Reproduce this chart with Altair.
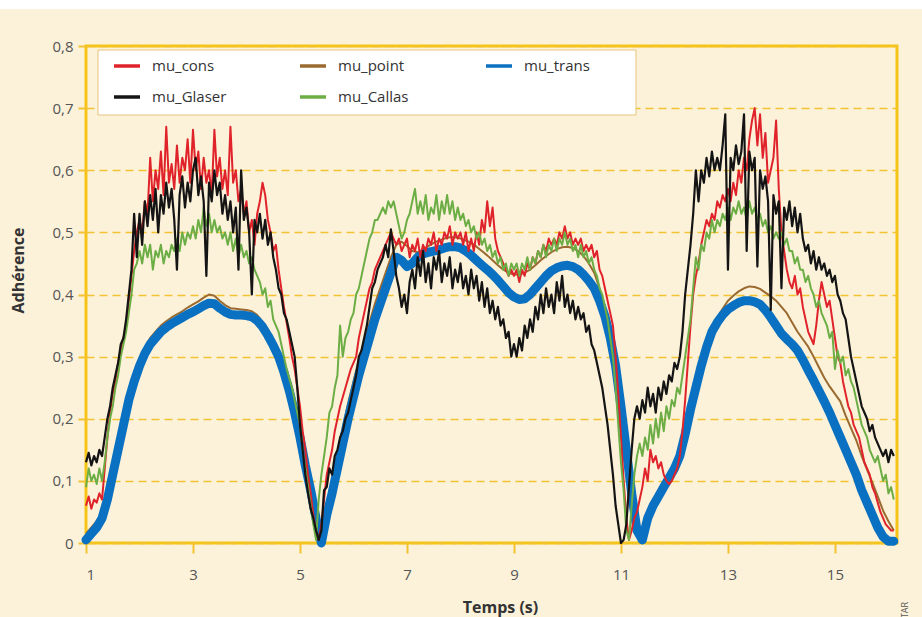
import altair as alt
import pandas as pd

# legend is laid out column by column: (mu_cons, mu_Glaser), (mu_point, mu_Callas), (mu_trans)
SERIES = ["mu_cons", "mu_Glaser", "mu_point", "mu_Callas", "mu_trans"]
COLORS = ["#e0232a", "#141414", "#9a6a30", "#6cae45", "#0a70c2"]
X_TICKS = [1, 3, 5, 7, 9, 11, 13, 15]
Y_TICKS = [0, 0.1, 0.2, 0.3, 0.4, 0.5, 0.6, 0.7, 0.8]

# noisy series: one row per second, sampled every 0.05 s (row k starts at t = 1 + k)
mu_cons = [
    [0.06,0.075,0.055,0.07,0.065,0.08,0.07,0.12,0.17,0.21,0.24,0.26,0.29,0.31,0.33,0.35,0.39,0.43,0.47,0.5],
    [0.52,0.5,0.55,0.53,0.62,0.55,0.6,0.57,0.63,0.56,0.67,0.58,0.61,0.57,0.64,0.58,0.62,0.6,0.65,0.58],
    [0.665,0.6,0.63,0.57,0.62,0.58,0.6,0.56,0.665,0.59,0.62,0.57,0.6,0.56,0.67,0.58,0.6,0.55,0.57,0.53],
    [0.55,0.5,0.52,0.48,0.53,0.55,0.58,0.56,0.52,0.5,0.47,0.48,0.44,0.41,0.38,0.355,0.33,0.3,0.28,0.25],
    [0.22,0.18,0.15,0.11,0.08,0.045,0.02,0.005,0.03,0.07,0.11,0.13,0.15,0.18,0.2,0.22,0.235,0.25,0.265,0.28],
    [0.29,0.3,0.33,0.35,0.37,0.39,0.41,0.42,0.44,0.45,0.46,0.47,0.48,0.49,0.5,0.49,0.48,0.49,0.47,0.48],
    [0.49,0.46,0.48,0.47,0.49,0.46,0.48,0.47,0.49,0.48,0.5,0.47,0.49,0.48,0.5,0.49,0.51,0.48,0.5,0.49],
    [0.5,0.48,0.5,0.47,0.49,0.47,0.5,0.48,0.52,0.5,0.55,0.51,0.54,0.49,0.47,0.46,0.45,0.44,0.43,0.44],
    [0.43,0.44,0.42,0.44,0.43,0.45,0.44,0.46,0.45,0.47,0.46,0.48,0.47,0.49,0.48,0.49,0.48,0.5,0.49,0.51],
    [0.49,0.5,0.48,0.49,0.48,0.49,0.47,0.48,0.47,0.48,0.46,0.47,0.44,0.43,0.41,0.39,0.37,0.35,0.3,0.24],
    [0.17,0.1,0.04,0.005,0.02,0.04,0.05,0.07,0.09,0.12,0.1,0.15,0.13,0.14,0.12,0.13,0.11,0.1,0.095,0.1],
    [0.11,0.12,0.14,0.18,0.23,0.29,0.35,0.4,0.43,0.45,0.48,0.5,0.52,0.51,0.53,0.52,0.55,0.54,0.56,0.55],
    [0.57,0.55,0.58,0.56,0.6,0.58,0.62,0.6,0.65,0.68,0.7,0.64,0.69,0.62,0.66,0.58,0.6,0.62,0.68,0.57],
    [0.5,0.47,0.44,0.42,0.41,0.43,0.4,0.41,0.38,0.36,0.34,0.33,0.32,0.35,0.39,0.42,0.4,0.38,0.39,0.36],
    [0.33,0.3,0.29,0.26,0.24,0.22,0.21,0.19,0.18,0.17,0.15,0.13,0.12,0.11,0.09,0.08,0.065,0.05,0.04,0.03],
    [0.025,0.02,0.02],
]
mu_Glaser = [
    [0.13,0.145,0.125,0.14,0.13,0.15,0.14,0.17,0.2,0.22,0.25,0.27,0.29,0.32,0.33,0.36,0.4,0.44,0.53,0.46],
    [0.53,0.48,0.55,0.51,0.56,0.52,0.57,0.5,0.56,0.53,0.58,0.54,0.57,0.52,0.44,0.56,0.59,0.54,0.58,0.55],
    [0.6,0.62,0.56,0.59,0.55,0.43,0.58,0.55,0.6,0.56,0.58,0.53,0.56,0.52,0.55,0.5,0.54,0.44,0.6,0.52],
    [0.54,0.5,0.4,0.52,0.5,0.53,0.49,0.52,0.48,0.5,0.46,0.44,0.41,0.4,0.37,0.36,0.34,0.32,0.3,0.25],
    [0.19,0.15,0.11,0.08,0.055,0.04,0.02,0.005,0.02,0.085,0.09,0.12,0.11,0.14,0.15,0.17,0.18,0.2,0.21,0.23],
    [0.25,0.27,0.3,0.31,0.33,0.35,0.38,0.41,0.42,0.44,0.45,0.46,0.48,0.46,0.505,0.47,0.43,0.41,0.38,0.4],
    [0.37,0.42,0.44,0.41,0.46,0.43,0.47,0.42,0.45,0.41,0.46,0.44,0.47,0.42,0.45,0.43,0.46,0.41,0.44,0.42],
    [0.45,0.41,0.43,0.4,0.44,0.41,0.43,0.39,0.42,0.38,0.41,0.37,0.39,0.36,0.38,0.35,0.36,0.33,0.34,0.3],
    [0.32,0.3,0.33,0.31,0.35,0.33,0.36,0.34,0.38,0.36,0.4,0.37,0.41,0.38,0.4,0.37,0.42,0.39,0.43,0.38],
    [0.4,0.37,0.39,0.36,0.38,0.36,0.37,0.34,0.35,0.32,0.31,0.29,0.27,0.25,0.22,0.19,0.15,0.11,0.06,0.03],
    [0.0,0.005,0.03,0.09,0.15,0.2,0.22,0.2,0.23,0.21,0.25,0.22,0.24,0.21,0.25,0.23,0.26,0.24,0.27,0.26],
    [0.29,0.28,0.3,0.34,0.4,0.44,0.48,0.53,0.6,0.55,0.6,0.58,0.62,0.59,0.63,0.6,0.62,0.6,0.64,0.69],
    [0.44,0.62,0.6,0.64,0.61,0.63,0.69,0.47,0.63,0.6,0.62,0.445,0.6,0.57,0.59,0.55,0.375,0.56,0.53,0.55],
    [0.41,0.54,0.52,0.55,0.51,0.54,0.5,0.53,0.49,0.47,0.48,0.45,0.47,0.44,0.46,0.44,0.45,0.43,0.44,0.42],
    [0.43,0.4,0.39,0.37,0.36,0.33,0.3,0.28,0.26,0.24,0.22,0.21,0.2,0.18,0.19,0.17,0.16,0.15,0.14,0.15],
    [0.13,0.15,0.14],
]
mu_Callas = [
    [0.09,0.12,0.1,0.11,0.095,0.12,0.1,0.13,0.17,0.2,0.22,0.25,0.27,0.3,0.32,0.34,0.37,0.4,0.44,0.45],
    [0.47,0.45,0.48,0.46,0.48,0.44,0.47,0.46,0.48,0.45,0.47,0.46,0.48,0.47,0.49,0.47,0.5,0.48,0.5,0.49],
    [0.51,0.49,0.52,0.5,0.54,0.51,0.53,0.5,0.52,0.5,0.51,0.49,0.5,0.48,0.5,0.47,0.49,0.46,0.48,0.46],
    [0.47,0.45,0.46,0.44,0.43,0.42,0.4,0.41,0.38,0.39,0.36,0.35,0.34,0.32,0.3,0.28,0.265,0.25,0.23,0.21],
    [0.19,0.15,0.12,0.09,0.06,0.03,0.005,0.07,0.11,0.14,0.17,0.21,0.22,0.25,0.27,0.35,0.3,0.33,0.34,0.36],
    [0.37,0.4,0.41,0.43,0.45,0.47,0.49,0.5,0.52,0.52,0.53,0.54,0.53,0.55,0.54,0.55,0.53,0.51,0.49,0.5],
    [0.52,0.53,0.55,0.57,0.53,0.55,0.53,0.56,0.52,0.54,0.53,0.56,0.52,0.55,0.53,0.56,0.53,0.55,0.52,0.54],
    [0.52,0.53,0.51,0.52,0.5,0.51,0.49,0.5,0.48,0.49,0.47,0.48,0.46,0.47,0.45,0.46,0.44,0.45,0.43,0.45],
    [0.44,0.45,0.43,0.45,0.44,0.46,0.44,0.46,0.45,0.47,0.46,0.48,0.46,0.48,0.47,0.49,0.47,0.49,0.48,0.5],
    [0.48,0.49,0.47,0.48,0.46,0.48,0.46,0.47,0.45,0.46,0.44,0.43,0.41,0.4,0.38,0.36,0.33,0.3,0.25,0.19],
    [0.13,0.085,0.02,0.005,0.06,0.11,0.14,0.16,0.14,0.17,0.15,0.19,0.16,0.2,0.17,0.21,0.18,0.22,0.2,0.23],
    [0.22,0.25,0.24,0.27,0.3,0.33,0.36,0.41,0.46,0.44,0.48,0.47,0.5,0.49,0.52,0.5,0.52,0.51,0.53,0.52],
    [0.54,0.52,0.54,0.53,0.55,0.53,0.54,0.52,0.55,0.53,0.54,0.52,0.53,0.51,0.52,0.5,0.51,0.49,0.5,0.49],
    [0.5,0.48,0.49,0.47,0.47,0.45,0.46,0.44,0.44,0.42,0.43,0.41,0.4,0.38,0.39,0.37,0.36,0.35,0.33,0.34],
    [0.28,0.31,0.29,0.3,0.27,0.28,0.26,0.25,0.23,0.21,0.19,0.18,0.17,0.15,0.14,0.13,0.14,0.12,0.1,0.11],
    [0.08,0.09,0.07],
]
# smooth series: one row per second, sampled every 0.1 s
mu_trans = [
    [0.005,0.015,0.025,0.04,0.07,0.11,0.15,0.19,0.23,0.26],
    [0.285,0.305,0.32,0.33,0.34,0.347,0.353,0.358,0.363,0.368],
    [0.372,0.377,0.382,0.386,0.385,0.378,0.372,0.368,0.367,0.367],
    [0.366,0.364,0.358,0.348,0.334,0.318,0.3,0.275,0.245,0.21],
    [0.17,0.125,0.085,0.04,0.0,0.045,0.08,0.12,0.16,0.2],
    [0.235,0.27,0.3,0.33,0.36,0.385,0.41,0.435,0.46,0.455],
    [0.445,0.45,0.46,0.465,0.468,0.47,0.472,0.475,0.477,0.477],
    [0.475,0.47,0.463,0.455,0.447,0.44,0.432,0.423,0.413,0.403],
    [0.396,0.392,0.393,0.4,0.41,0.42,0.43,0.438,0.443,0.446],
    [0.447,0.445,0.44,0.432,0.422,0.41,0.39,0.365,0.33,0.285],
    [0.22,0.15,0.08,0.02,0.005,0.04,0.06,0.075,0.09,0.105],
    [0.12,0.14,0.175,0.215,0.25,0.285,0.315,0.34,0.355,0.367],
    [0.376,0.382,0.387,0.39,0.39,0.388,0.384,0.375,0.363,0.35],
    [0.337,0.328,0.32,0.31,0.295,0.278,0.262,0.245,0.228,0.21],
    [0.19,0.17,0.15,0.13,0.11,0.085,0.065,0.045,0.025,0.01],
    [0.003,0.003],
]
mu_point = [
    [0.015,0.025,0.035,0.05,0.08,0.12,0.16,0.2,0.24,0.27],
    [0.295,0.315,0.33,0.34,0.35,0.357,0.363,0.368,0.373,0.379],
    [0.384,0.389,0.395,0.4,0.398,0.39,0.383,0.378,0.377,0.376],
    [0.375,0.373,0.367,0.356,0.342,0.326,0.308,0.283,0.253,0.218],
    [0.178,0.133,0.092,0.045,0.005,0.06,0.1,0.14,0.185,0.225],
    [0.26,0.295,0.325,0.355,0.385,0.41,0.435,0.46,0.48,0.485],
    [0.478,0.47,0.468,0.472,0.478,0.483,0.487,0.49,0.492,0.492],
    [0.49,0.487,0.483,0.477,0.47,0.463,0.455,0.447,0.44,0.435],
    [0.432,0.432,0.435,0.44,0.447,0.455,0.462,0.468,0.473,0.476],
    [0.477,0.475,0.47,0.462,0.45,0.435,0.41,0.375,0.335,0.285],
    [0.215,0.14,0.07,0.015,0.01,0.045,0.065,0.08,0.095,0.11],
    [0.125,0.145,0.18,0.22,0.255,0.29,0.32,0.345,0.362,0.377],
    [0.39,0.398,0.405,0.41,0.413,0.412,0.409,0.403,0.397,0.39],
    [0.38,0.37,0.355,0.34,0.328,0.316,0.3,0.283,0.266,0.252],
    [0.24,0.228,0.205,0.185,0.165,0.14,0.118,0.097,0.075,0.052],
    [0.035,0.02],
]


def build(rows, step, name):
    recs = []
    for k, row in enumerate(rows):
        for j, v in enumerate(row):
            recs.append({"t": round(1 + k + j * step, 3), "v": v, "series": name})
    return pd.DataFrame(recs)


df_cons = build(mu_cons, 0.05, "mu_cons")
df_glaser = build(mu_Glaser, 0.05, "mu_Glaser")
df_callas = build(mu_Callas, 0.05, "mu_Callas")
df_trans = build(mu_trans, 0.1, "mu_trans")
df_point = build(mu_point, 0.1, "mu_point")

FONT = "Open Sans"
YEL = "#f2c230"

x_enc = alt.X(
    "t:Q",
    scale=alt.Scale(domain=[1, 16.16], nice=False, zero=False),
    axis=alt.Axis(
        values=X_TICKS, title="Temps (s)", grid=False, domain=False,
        tickColor=YEL, tickSize=10, tickWidth=2, labelPadding=14,
        labelFont=FONT, labelFontSize=15, labelColor="#555555",
        titleFont=FONT, titleFontSize=16, titleFontWeight="bold", titleColor="#333333",
        titleX=414, titleY=64, titleBaseline="middle", titleAlign="center",
    ),
)
y_enc = alt.Y(
    "v:Q",
    scale=alt.Scale(domain=[0, 0.8], nice=False),
    axis=alt.Axis(
        values=Y_TICKS, title="Adhérence", grid=True, gridColor=YEL, gridDash=[8, 5],
        gridWidth=1.5, domain=False, tickColor=YEL, tickSize=8, tickWidth=2,
        labelPadding=5, labelFont=FONT, labelFontSize=15, labelColor="#555555",
        labelExpr="datum.value == 0 ? '0' : replace(format(datum.value, '.1f'), '.', ',')",
        titleFont=FONT, titleFontSize=16, titleFontWeight="bold", titleColor="#333333",
        titleX=-68, titleY=224, titleBaseline="middle", titleAlign="center", titleAngle=270,
    ),
)
color_enc = alt.Color(
    "series:N",
    scale=alt.Scale(domain=SERIES, range=COLORS),
    legend=alt.Legend(
        title=None, orient="none", legendX=26, legendY=5, columns=3,
        symbolType="stroke", symbolSize=676, symbolStrokeWidth=3.5,
        labelFont=FONT, labelFontSize=15, labelColor="#333333", labelOffset=10,
        columnPadding=66, rowPadding=8, gridAlign="all", padding=0,
    ),
)


def line(df, width, cap="butt"):
    return alt.Chart(df).mark_line(strokeWidth=width, strokeJoin="round", strokeCap=cap).encode(
        x=x_enc, y=y_enc, color=color_enc
    )


one = pd.DataFrame({"a": [0]})
legend_box = alt.Chart(one).mark_rect(fill="white", stroke="#e6c47c", strokeWidth=1).encode(
    x=alt.value(12), x2=alt.value(550), y=alt.value(4), y2=alt.value(69)
)
top_strip = alt.Chart(one).mark_rect(fill="white").encode(
    x=alt.value(-86), x2=alt.value(836), y=alt.value(-46), y2=alt.value(-37)
)
credit = alt.Chart(pd.DataFrame({"txt": ["TAR"]})).mark_text(
    angle=270, fontSize=9, color="#555555", font=FONT
).encode(text="txt:N", x=alt.value(819), y=alt.value(564))

chart = alt.layer(
    legend_box,
    line(df_point, 2),
    line(df_trans, 9, "round"),
    line(df_cons, 2),
    line(df_callas, 2),
    line(df_glaser, 2.2),
    top_strip,
    credit,
).properties(
    width=811, height=497,
    padding={"left": 86, "top": 46, "right": 25, "bottom": 74},
    autosize=alt.AutoSizeParams(type="none"),
    background="#fcf2da",
).configure_view(stroke="#f5c416", strokeWidth=3, fill="#fcf2da")

chart.save("out.html", embed_options={"renderer": "svg", "actions": False})
